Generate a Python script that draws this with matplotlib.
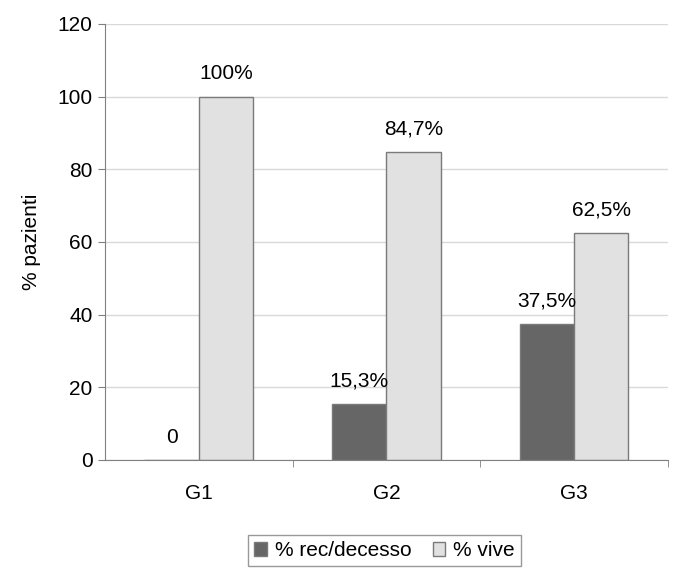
import matplotlib.pyplot as plt
import numpy as np

plt.rcParams['font.family'] = ['Liberation Sans', 'DejaVu Sans']

groups = ["G1", "G2", "G3"]
rec_decesso = [0, 15.3, 37.5]
vive = [100, 84.7, 62.5]
rec_labels = ["0", "15,3%", "37,5%"]
vive_labels = ["100%", "84,7%", "62,5%"]

dark = "#666666"
light = "#e1e1e1"
edge = "#7a7a7a"
axis_grey = "#808080"
fs = 15

fig = plt.figure(figsize=(6.76, 5.71), dpi=100)
ax = fig.add_axes([0.1553, 0.1944, 0.8327, 0.7636])

x = np.arange(len(groups))
w = 0.29
b1 = ax.bar(x - w / 2, rec_decesso, w, color=dark, edgecolor=edge, linewidth=1,
            label="% rec/decesso", zorder=3)
b2 = ax.bar(x + w / 2, vive, w, color=light, edgecolor=edge, linewidth=1,
            label="% vive", zorder=3)

for bars, labels in ((b1, rec_labels), (b2, vive_labels)):
    for bar, lab in zip(bars, labels):
        ax.annotate(lab, (bar.get_x() + bar.get_width() / 2, bar.get_height()),
                    xytext=(0, 16.5), textcoords="offset points",
                    ha="center", va="center", fontsize=fs)

ax.set_xlim(-0.5, 2.5)
ax.set_ylim(0, 120)
ax.set_yticks(range(0, 121, 20))
ax.set_xticks(x)
ax.set_xticklabels(groups)
ax.set_xticks([0.5, 1.5, 2.5], minor=True)
ax.tick_params(axis="x", which="major", length=0, pad=17, labelsize=fs)
ax.tick_params(axis="x", which="minor", length=5, color=axis_grey)
ax.tick_params(axis="y", length=5, color=axis_grey, labelsize=fs, pad=4)
ax.grid(axis="y", color="#d9d9d9", linewidth=1, zorder=0)

for side in ("top", "right"):
    ax.spines[side].set_visible(False)
for side in ("left", "bottom"):
    ax.spines[side].set_color(axis_grey)
    ax.spines[side].set_zorder(4)

ax.set_ylabel("% pazienti", fontsize=fs, labelpad=12)

leg = ax.legend(loc="upper center", bbox_to_anchor=(0.497, -0.172), ncol=2,
                fontsize=fs, frameon=True, fancybox=False, handlelength=0.6,
                handleheight=0.6, handletextpad=0.4, columnspacing=1.0,
                borderpad=0.3, borderaxespad=0)
leg.get_frame().set_edgecolor(axis_grey)
leg.get_frame().set_linewidth(1)

fig.savefig("out.png", dpi=100)
